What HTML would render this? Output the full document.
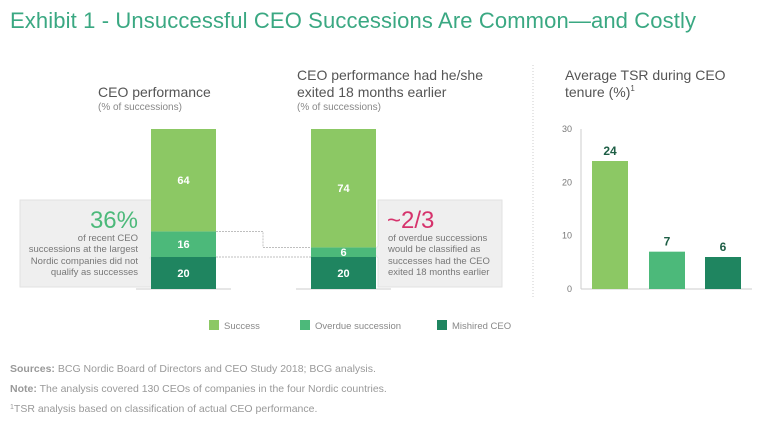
<!DOCTYPE html>
<html><head><meta charset="utf-8"><style>
html,body{margin:0;padding:0;background:#fff;}
body{width:768px;height:425px;overflow:hidden;font-family:"Liberation Sans",sans-serif;}
svg text{font-family:"Liberation Sans",sans-serif;}
</style></head><body>
<svg id="c" width="768" height="425" viewBox="0 0 768 425">
<text x="10" y="28" font-size="22" fill="#3aa882" textLength="686">Exhibit 1 - Unsuccessful CEO Successions Are Common—and Costly</text>
<text x="98" y="97" font-size="14" fill="#555">CEO performance</text>
<text x="98" y="110" font-size="10" fill="#888">(% of successions)</text>
<text x="297" y="80" font-size="14" fill="#555">CEO performance had he/she</text>
<text x="297" y="97" font-size="14" fill="#555">exited 18 months earlier</text>
<text x="297" y="110" font-size="10" fill="#888">(% of successions)</text>
<text x="565" y="80" font-size="14" fill="#555">Average TSR during CEO</text>
<text x="565" y="97" font-size="14" fill="#555">tenure (%)<tspan font-size="8" dy="-6">1</tspan></text>
<line x1="533" y1="65" x2="533" y2="298" stroke="#ccc" stroke-dasharray="1,2"/>
<path d="M20 200 H155 V251 L150 258 L155 265 V287 H20 Z" fill="#efefef" stroke="#e2e2e2"/>
<text x="138" y="228" font-size="24" fill="#4cb97a" text-anchor="end">36%</text>
<g font-size="9.5" fill="#777" text-anchor="end">
<text x="138" y="241">of recent CEO</text><text x="138" y="252">successions at the largest</text><text x="138" y="264">Nordic companies did not</text><text x="138" y="275">qualify as successes</text></g>
<path d="M378 200 H502 V287 H378 V258 L373 252 L378 246 Z" fill="#efefef" stroke="#e2e2e2"/>
<text x="387" y="228" font-size="24" fill="#d6336c">~2/3</text>
<g font-size="9.5" fill="#777">
<text x="388" y="241">of overdue successions</text><text x="388" y="252">would be classified as</text><text x="388" y="264">successes had the CEO</text><text x="388" y="275">exited 18 months earlier</text></g>
<g id="stacks"></g>
<g id="tsr"></g>
<g font-size="9.5" fill="#888">
<rect x="209" y="320" width="10" height="10" fill="#8cc864"/><text x="224" y="329">Success</text>
<rect x="300" y="320" width="10" height="10" fill="#4cb97a"/><text x="315" y="329">Overdue succession</text>
<rect x="437" y="320" width="10" height="10" fill="#1f8560"/><text x="452" y="329">Mishired CEO</text>
</g>
<g font-size="10.5" fill="#999">
<text x="10" y="372"><tspan font-weight="bold">Sources:</tspan> BCG Nordic Board of Directors and CEO Study 2018; BCG analysis.</text>
<text x="10" y="392"><tspan font-weight="bold">Note:</tspan> The analysis covered 130 CEOs of companies in the four Nordic countries.</text>
<text x="10" y="412"><tspan font-size="7" dy="-3">1</tspan><tspan dy="3">TSR analysis based on classification of actual CEO performance.</tspan></text>
</g>
</svg>
<script>
const stackNames=['current','earlier'];
const mishired=[20,20];
const overdue=[16,6];
const success=[64,74];
const tsrCategories=['Success','Overdue succession','Mishired CEO'];
const tsrValues=[24,7,6];
const tsrTicks=[0,10,20,30];
const NS='http://www.w3.org/2000/svg';
function mk(t,a,p){const e=document.createElementNS(NS,t);for(const k in a)e.setAttribute(k,a[k]);p.appendChild(e);return e;}
const colors=['#1f8560','#4cb97a','#8cc864'];
const base=289,unit=1.6,barX=[151,311],bw=65;
const ys=v=>v*unit;
const sg=document.getElementById('stacks');
const tops=[];
stackNames.forEach((n,i)=>{
  mk('line',{x1:barX[i]-15,x2:barX[i]+bw+15,y1:base,y2:base,stroke:'#ccc'},sg);
  let y=base;const segs=[mishired[i],overdue[i],success[i]];const ts=[];
  segs.forEach((v,j)=>{
    const h=ys(v);y-=h;ts.push(y);
    const r=mk('rect',{x:barX[i],y:y,width:bw,height:h,fill:colors[j]},sg);
    
    
    const t=mk('text',{x:barX[i]+bw/2,y:y+h/2+4,'text-anchor':'middle','font-size':11,'font-weight':'bold',fill:'#fff'},sg);
    t.textContent=v;
    
    
  });
  tops.push(ts);
});
const midX=263;
const c1=mk('path',{d:`M${barX[0]+bw} ${tops[0][1]} H${midX} V${tops[1][1]} H${barX[1]}`,fill:'none',stroke:'#aaa','stroke-dasharray':'2,1','stroke-width':0.7},sg);


const c2=mk('path',{d:`M${barX[0]+bw} ${tops[0][0]} H${barX[1]}`,fill:'none',stroke:'#aaa','stroke-dasharray':'2,1','stroke-width':0.7},sg);


const tg=document.getElementById('tsr');
const y0=289,pu=160/30,ax=581,tbx=[592,649,705],tbw=36;
const ty=v=>y0-v*pu;
mk('line',{x1:ax,x2:ax,y1:ty(30),y2:y0,stroke:'#ccc'},tg);
mk('line',{x1:ax,x2:752,y1:y0,y2:y0,stroke:'#ccc'},tg);
tsrTicks.forEach(v=>{const t=mk('text',{x:572,y:ty(v)+3,'text-anchor':'end','font-size':9,fill:'#777'},tg);t.textContent=v;
 
 });
tsrValues.forEach((v,i)=>{
  const r=mk('rect',{x:tbx[i],y:ty(v),width:tbw,height:v*pu,fill:colors[2-i]},tg);
  
  
  const t=mk('text',{x:tbx[i]+tbw/2,y:ty(v)-6,'text-anchor':'middle','font-size':12,'font-weight':'bold',fill:'#1d5e45'},tg);
  t.textContent=v;
  
  
});
</script>
</body></html>
